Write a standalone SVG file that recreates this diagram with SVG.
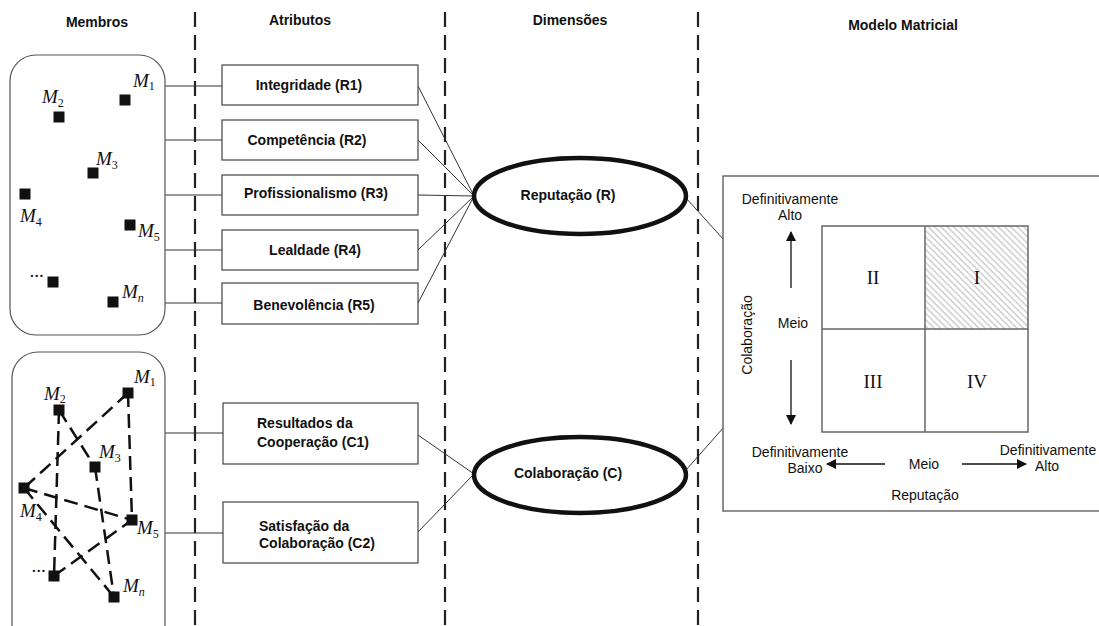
<svg xmlns="http://www.w3.org/2000/svg" width="1099" height="626" viewBox="0 0 1099 626">
  <style>
    .hdr { font-family: "Liberation Sans", Arial, sans-serif; font-weight: bold; font-size: 14px; text-anchor: middle; fill: #111; }
    .sep { stroke: #222; stroke-width: 2.2; stroke-dasharray: 15 8; fill: none; }
    .group { fill: #fff; stroke: #555; stroke-width: 1.2; }
    .member { fill: #111; }
    .mlabel { font-family: "Liberation Serif", "Times New Roman", serif; font-style: italic; font-size: 19px; fill: #111; }
    .msub { font-size: 12px; font-style: normal; }
    .msub-i { font-size: 12px; font-style: italic; }
    .link { stroke: #333; stroke-width: 1; fill: none; }
    .net { stroke: #111; stroke-width: 2.5; stroke-dasharray: 14 7; fill: none; }
    .attr rect { fill: #fff; stroke: #444; stroke-width: 1.2; }
    .attr text, .dim text { font-family: "Liberation Sans", Arial, sans-serif; font-weight: bold; font-size: 14px; fill: #111; }
    .dim ellipse { fill: #fff; stroke: #111; stroke-width: 4.5; }
    .mx { font-family: "Liberation Sans", Arial, sans-serif; font-size: 14px; fill: #111; text-anchor: middle; }
    .roman { font-family: "Liberation Serif", "Times New Roman", serif; font-size: 19px; fill: #111; text-anchor: middle; }
    .grid { fill: none; stroke: #666; stroke-width: 1.5; }
    .arrow { stroke: #111; stroke-width: 1.3; fill: none; marker-end: url(#head); }
  </style>
  <defs>
    <marker id="head" viewBox="0 0 10 10" refX="9" refY="5" markerWidth="10" markerHeight="10" markerUnits="userSpaceOnUse" orient="auto">
      <path d="M0,0 L10,5 L0,10 z" fill="#111"/>
    </marker>
    <pattern id="hatch" patternUnits="userSpaceOnUse" width="4.5" height="4.5" patternTransform="rotate(-45)">
      <line x1="1" y1="0" x2="1" y2="4.5" stroke="#b5b5b5" stroke-width="1"/>
    </pattern>
  </defs>

  <rect width="1099" height="626" fill="#fff"/>

  <!-- column headings -->
  <text class="hdr" x="97" y="27">Membros</text>
  <text class="hdr" x="300" y="25">Atributos</text>
  <text class="hdr" x="570" y="25">Dimensões</text>
  <text class="hdr" x="903" y="30">Modelo Matricial</text>

  <!-- column separators -->
  <line class="sep" x1="195" y1="12" x2="195" y2="626"/>
  <line class="sep" x1="445" y1="12" x2="445" y2="626"/>
  <line class="sep" x1="698" y1="12" x2="698" y2="626"/>

  <!-- connectors -->
  <g id="connectors">
    <line class="link" x1="165" y1="86" x2="222" y2="86"/>
    <line class="link" x1="165" y1="140" x2="222" y2="140"/>
    <line class="link" x1="165" y1="195" x2="222" y2="195"/>
    <line class="link" x1="165" y1="250" x2="222" y2="250"/>
    <line class="link" x1="165" y1="303" x2="222" y2="303"/>
    <line class="link" x1="165" y1="433" x2="223" y2="433"/>
    <line class="link" x1="165" y1="533" x2="223" y2="533"/>
    <line class="link" x1="418" y1="86" x2="474" y2="196"/>
    <line class="link" x1="418" y1="140" x2="474" y2="196"/>
    <line class="link" x1="418" y1="195" x2="474" y2="196"/>
    <line class="link" x1="418" y1="250" x2="474" y2="196"/>
    <line class="link" x1="418" y1="303" x2="474" y2="196"/>
    <line class="link" x1="418" y1="435" x2="474" y2="474"/>
    <line class="link" x1="418" y1="532" x2="474" y2="474"/>
    <line class="link" x1="686" y1="198" x2="724" y2="240"/>
    <line class="link" x1="686" y1="470" x2="724" y2="427"/>
  </g>

  <!-- members, individual -->
  <g id="members-reputation">
    <rect class="group" x="10" y="55" width="155" height="280" rx="26"/>
    <rect class="member" x="119.5" y="94.5" width="11" height="11"/>
    <rect class="member" x="53.5" y="111.5" width="11" height="11"/>
    <rect class="member" x="87.5" y="167.5" width="11" height="11"/>
    <rect class="member" x="19.5" y="188.5" width="11" height="11"/>
    <rect class="member" x="124.5" y="219.5" width="11" height="11"/>
    <rect class="member" x="47.5" y="276.5" width="11" height="11"/>
    <rect class="member" x="107.5" y="296.5" width="11" height="11"/>
    <text class="mlabel" x="133" y="87">M<tspan class="msub" dy="3">1</tspan></text>
    <text class="mlabel" x="42" y="103">M<tspan class="msub" dy="4">2</tspan></text>
    <text class="mlabel" x="96" y="165">M<tspan class="msub" dy="4">3</tspan></text>
    <text class="mlabel" x="20" y="222">M<tspan class="msub" dy="4">4</tspan></text>
    <text class="mlabel" x="138" y="237">M<tspan class="msub" dy="4">5</tspan></text>
    <text class="mlabel" x="30" y="277">...</text>
    <text class="mlabel" x="122" y="298">M<tspan class="msub-i" dy="4">n</tspan></text>
  </g>

  <!-- members, connected network -->
  <g id="members-collaboration">
    <rect class="group" x="12" y="352" width="153" height="300" rx="26"/>
    <line class="net" x1="128" y1="393" x2="24" y2="488"/>
    <line class="net" x1="128" y1="393" x2="132" y2="520"/>
    <line class="net" x1="59" y1="410" x2="95" y2="467"/>
    <line class="net" x1="59" y1="410" x2="54" y2="576"/>
    <line class="net" x1="95" y1="467" x2="114" y2="597"/>
    <line class="net" x1="24" y1="488" x2="132" y2="520"/>
    <line class="net" x1="24" y1="488" x2="114" y2="597"/>
    <line class="net" x1="54" y1="576" x2="132" y2="520"/>
    <rect class="member" x="122.5" y="387.5" width="11" height="11"/>
    <rect class="member" x="53.5" y="404.5" width="11" height="11"/>
    <rect class="member" x="89.5" y="461.5" width="11" height="11"/>
    <rect class="member" x="18.5" y="482.5" width="11" height="11"/>
    <rect class="member" x="126.5" y="514.5" width="11" height="11"/>
    <rect class="member" x="48.5" y="570.5" width="11" height="11"/>
    <rect class="member" x="108.5" y="591.5" width="11" height="11"/>
    <text class="mlabel" x="134" y="383">M<tspan class="msub" dy="3">1</tspan></text>
    <text class="mlabel" x="44" y="400">M<tspan class="msub" dy="3">2</tspan></text>
    <text class="mlabel" x="99" y="458">M<tspan class="msub" dy="4">3</tspan></text>
    <text class="mlabel" x="20" y="517">M<tspan class="msub" dy="4">4</tspan></text>
    <text class="mlabel" x="137" y="534">M<tspan class="msub" dy="4">5</tspan></text>
    <text class="mlabel" x="32" y="572">...</text>
    <text class="mlabel" x="123" y="592">M<tspan class="msub-i" dy="4">n</tspan></text>
  </g>

  <!-- reputation attributes -->
  <g id="attr-r1" class="attr">
    <rect x="222" y="65" width="196" height="40"/>
    <text x="309" y="90" text-anchor="middle">Integridade (R1)</text>
  </g>
  <g id="attr-r2" class="attr">
    <rect x="222" y="120" width="196" height="40"/>
    <text x="307" y="145" text-anchor="middle">Competência (R2)</text>
  </g>
  <g id="attr-r3" class="attr">
    <rect x="222" y="175" width="196" height="40"/>
    <text x="316" y="198" text-anchor="middle">Profissionalismo (R3)</text>
  </g>
  <g id="attr-r4" class="attr">
    <rect x="222" y="230" width="196" height="40"/>
    <text x="315" y="255" text-anchor="middle">Lealdade (R4)</text>
  </g>
  <g id="attr-r5" class="attr">
    <rect x="222" y="283" width="196" height="41"/>
    <text x="314" y="310" text-anchor="middle">Benevolência (R5)</text>
  </g>

  <!-- collaboration attributes -->
  <g id="attr-c1" class="attr">
    <rect x="223" y="403" width="195" height="61"/>
    <text x="257" y="428">Resultados da</text>
    <text x="257" y="447">Cooperação (C1)</text>
  </g>
  <g id="attr-c2" class="attr">
    <rect x="223" y="502" width="195" height="61"/>
    <text x="259" y="531">Satisfação da</text>
    <text x="259" y="548">Colaboração (C2)</text>
  </g>

  <!-- dimensions -->
  <g id="dim-reputacao" class="dim">
    <ellipse cx="580" cy="196" rx="106" ry="38"/>
    <text x="568" y="200" text-anchor="middle">Reputação (R)</text>
  </g>
  <g id="dim-colaboracao" class="dim">
    <ellipse cx="580" cy="475" rx="106" ry="38"/>
    <text x="568" y="478" text-anchor="middle">Colaboração (C)</text>
  </g>

  <!-- matrix model -->
  <g id="matrix">
    <rect x="723" y="176" width="390" height="335" fill="#fff" stroke="#555" stroke-width="1.3"/>
    <rect x="925" y="226" width="103" height="103" fill="url(#hatch)"/>
    <rect class="grid" x="822" y="226" width="206" height="206"/>
    <line class="grid" x1="925" y1="226" x2="925" y2="432"/>
    <line class="grid" x1="822" y1="329" x2="1028" y2="329"/>
    <text class="roman" x="873" y="284">II</text>
    <text class="roman" x="977" y="284">I</text>
    <text class="roman" x="873" y="388">III</text>
    <text class="roman" x="977" y="388">IV</text>

    <text class="mx" x="790" y="204">Definitivamente</text>
    <text class="mx" x="790" y="220">Alto</text>
    <line class="arrow" x1="791" y1="288" x2="791" y2="232"/>
    <text class="mx" x="793" y="328">Meio</text>
    <line class="arrow" x1="791" y1="360" x2="791" y2="424"/>
    <text class="mx" transform="translate(752 335) rotate(-90)">Colaboração</text>

    <text class="mx" x="800" y="457">Definitivamente</text>
    <text class="mx" x="805" y="473">Baixo</text>
    <line class="arrow" x1="885" y1="464" x2="827" y2="464"/>
    <text class="mx" x="924" y="469">Meio</text>
    <line class="arrow" x1="962" y1="464" x2="1026" y2="464"/>
    <text class="mx" x="1048" y="455">Definitivamente</text>
    <text class="mx" x="1047" y="471">Alto</text>
    <text class="mx" x="925" y="500">Reputação</text>
  </g>
</svg>
